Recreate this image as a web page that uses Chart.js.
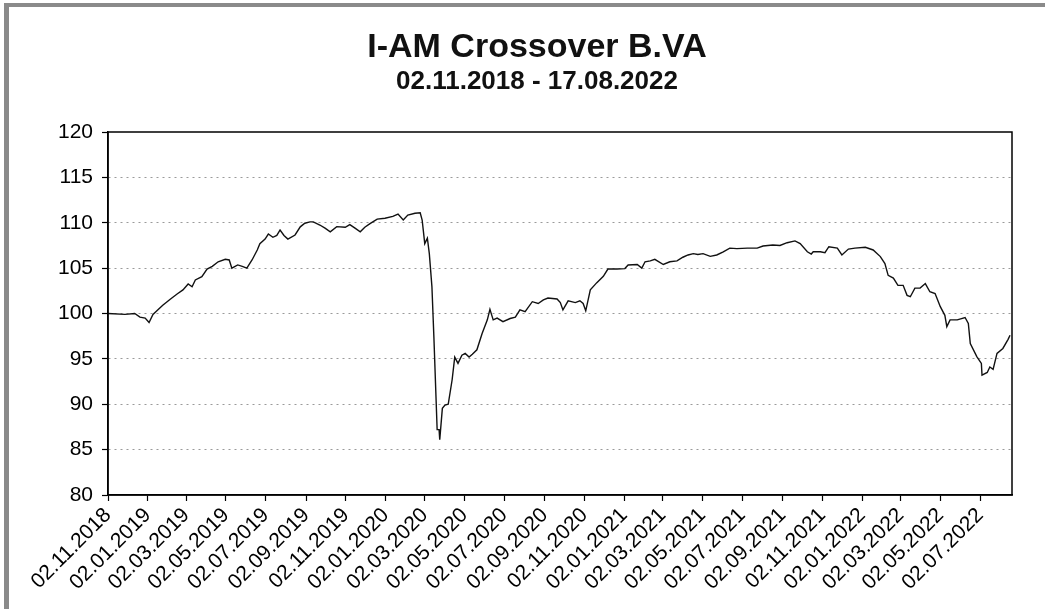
<!DOCTYPE html>
<html><head><meta charset="utf-8">
<script src="https://cdn.jsdelivr.net/npm/chart.js@4.4.0/dist/chart.umd.min.js"></script>
<style>
html,body{margin:0;padding:0;background:#fff;}
#wrap{position:relative;width:1045px;height:609px;overflow:hidden;background:#fff;}
#frame{position:absolute;left:4px;top:3px;width:1100px;height:700px;border-left:5px solid #8a8a8a;border-top:4px solid #8a8a8a;}
canvas{position:absolute;left:0;top:0;}
</style></head>
<body><div id="wrap"><canvas id="c" width="1045" height="609"></canvas><div id="frame"></div></div>
<script>
const titleText = 'I-AM Crossover B.VA';
const subtitleText = '02.11.2018 - 17.08.2022';
const startDate = '02.11.2018';
const axisEndDate = '20.08.2022';
const tickDates = ['02.11.2018','02.01.2019','02.03.2019','02.05.2019','02.07.2019','02.09.2019','02.11.2019',
  '02.01.2020','02.03.2020','02.05.2020','02.07.2020','02.09.2020','02.11.2020','02.01.2021','02.03.2021',
  '02.05.2021','02.07.2021','02.09.2021','02.11.2021','02.01.2022','02.03.2022','02.05.2022','02.07.2022'];
const yMin = 80, yMax = 120, yStep = 5;
// days since 02.11.2018
const dayOffsets = [
  0,26,41,49,57,63,69,75,84,95,
  106,115,123,129,134,144,152,160,169,180,
  186,190,199,206,213,221,229,233,241,246,
  253,259,264,270,276,287,295,302,310,315,
  325,333,341,351,364,371,379,387,394,402,
  413,425,437,445,453,460,471,479,482,486,
  490,493,497,500,505,508,509,513,517,522,
  528,532,537,543,548,554,559,566,574,582,
  586,591,597,606,617,625,632,640,651,660,
  668,675,689,694,698,706,717,724,729,733,
  740,750,760,767,781,793,798,812,819,824,
  832,839,852,862,873,882,890,898,905,913,
  924,934,944,954,965,981,996,1005,1020,1031,
  1042,1054,1062,1073,1079,1082,1093,1100,1106,1119,
  1126,1136,1146,1162,1174,1185,1192,1197,1205,1212,
  1220,1226,1231,1238,1246,1254,1261,1269,1277,1284,
  1287,1292,1303,1315,1320,1323,1333,1340,1341,1349,
  1353,1358,1364,1373,1381,1384];
const values = [
  100.0,99.9,100.0,99.6,99.5,99.0,99.9,100.3,100.9,101.55,
  102.15,102.6,103.25,102.95,103.7,104.05,104.9,105.2,105.7,105.97,
  105.9,105.0,105.35,105.2,105.0,105.9,107.0,107.7,108.2,108.76,
  108.4,108.6,109.2,108.6,108.2,108.65,109.55,109.95,110.1,110.1,
  109.75,109.4,109.0,109.57,109.5,109.8,109.4,109.0,109.5,109.9,
  110.4,110.5,110.7,110.96,110.3,110.85,111.05,111.1,110.3,107.7,
  108.3,106.6,102.95,97.4,87.2,87.2,86.1,89.55,89.9,90.0,
  92.7,95.2,94.5,95.4,95.6,95.2,95.5,96.0,97.8,99.3,
  100.45,99.3,99.5,99.1,99.45,99.6,100.4,100.2,101.3,101.1,
  101.5,101.7,101.6,101.2,100.4,101.4,101.2,101.4,101.1,100.3,
  102.6,103.4,104.1,104.9,104.9,104.95,105.35,105.4,105.0,105.7,
  105.8,105.97,105.4,105.7,105.8,106.2,106.45,106.6,106.5,106.6,
  106.3,106.45,106.8,107.2,107.15,107.2,107.2,107.44,107.55,107.5,
  107.8,108.0,107.7,106.8,106.55,106.8,106.8,106.7,107.36,107.2,
  106.45,107.1,107.2,107.3,107.0,106.27,105.5,104.2,103.9,103.1,
  103.1,102.0,101.85,102.8,102.8,103.3,102.4,102.2,100.75,99.8,
  98.55,99.3,99.3,99.56,98.9,96.7,95.25,94.5,93.2,93.5,
  94.1,93.85,95.6,96.15,97.15,97.6];

function toDay(s){
  const [d,m,y] = s.split('.').map(Number);
  const [d0,m0,y0] = startDate.split('.').map(Number);
  return Math.round((Date.UTC(y,m-1,d) - Date.UTC(y0,m0-1,d0)) / 86400000);
}
const tickDays = tickDates.map(toDay);
const tickLabelByDay = {};
tickDates.forEach((t,i)=>{ tickLabelByDay[tickDays[i]] = t; });
const points = dayOffsets.map((d,i)=>({x:d, y:values[i]}));
const FONT = "'Liberation Sans', Arial, sans-serif";

const framePlugin = {
  id:'frameBox',
  afterDraw(chart){
    const {ctx, chartArea:a} = chart;
    ctx.save();
    ctx.strokeStyle = '#000';
    ctx.lineWidth = 1.5;
    ctx.strokeRect(a.left, a.top, a.right - a.left, a.bottom - a.top);
    ctx.fillStyle = '#111';
    ctx.textAlign = 'center';
    ctx.textBaseline = 'alphabetic';
    ctx.font = 'bold 34px ' + FONT;
    ctx.fillText(titleText, 537, 57);
    ctx.font = 'bold 26px ' + FONT;
    ctx.fillText(subtitleText, 537, 89);
    ctx.restore();
  }
};

new Chart(document.getElementById('c'), {
  type:'line',
  data:{ datasets:[{ data:points, borderColor:'#111', borderWidth:1.4, pointRadius:0, tension:0, fill:false }] },
  options:{
    responsive:false, animation:false, devicePixelRatio:1,
    layout:{ padding:{ left:0, right:33, top:132, bottom:0 } },
    plugins:{ legend:{display:false}, tooltip:{enabled:false}, title:{display:false} },
    scales:{
      x:{
        type:'linear', min:0, max:toDay(axisEndDate),
        afterBuildTicks(scale){ scale.ticks = tickDays.map(v=>({value:v})); },
        afterFit(scale){ scale.height = 114; },
        ticks:{ autoSkip:false, maxRotation:45, minRotation:45, color:'#000', padding:2,
          font:{family:FONT, size:21},
          callback:(v)=> tickLabelByDay[v] ?? '' },
        grid:{ drawOnChartArea:false, drawTicks:true, tickLength:6, tickColor:'#000', tickWidth:1.2 },
        border:{ display:true, color:'#000', width:1.5 }
      },
      y:{
        min:yMin, max:yMax,
        afterFit(scale){ scale.width = 108; },
        ticks:{ stepSize:yStep, color:'#000', padding:9, font:{family:FONT, size:21} },
        grid:{
          color:(c)=> (c.tick && (c.tick.value===yMin || c.tick.value===yMax)) ? 'rgba(0,0,0,0)' : '#9a9a9a',
          lineWidth:1, drawTicks:true, tickLength:6, tickColor:'#000', tickWidth:1.2, tickBorderDash:[]
        },
        border:{ display:true, color:'#000', width:1.5, dash:[2,4] }
      }
    }
  },
  plugins:[framePlugin]
});
</script>
</body></html>
